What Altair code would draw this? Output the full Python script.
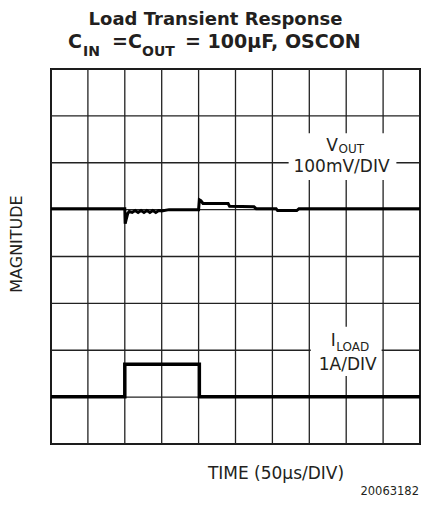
import altair as alt
import pandas as pd

# ---- data (time in µs, magnitude in divisions) ----
vout_t = [0, 100, 100.5, 102, 104, 106, 110, 114, 118, 122, 126, 130, 134, 138, 142, 146,
          150, 160, 200, 201, 203, 206, 240, 242, 275, 278, 305, 307, 333, 336, 500]
vout_v = [5.02, 5.02, 4.70, 4.80, 4.92, 4.96, 4.94, 4.98, 4.94, 4.98, 4.94, 4.98, 4.94, 4.98, 4.94, 4.98,
          4.97, 5.00, 5.00, 5.21, 5.19, 5.13, 5.13, 5.07, 5.06, 5.02, 5.02, 4.98, 4.98, 5.02, 5.02]

iload_t = [0, 100, 100, 201, 201, 500]
iload_v = [1.01, 1.01, 1.70, 1.70, 1.01, 1.01]

grid_t = [0, 50, 100, 150, 200, 250, 300, 350, 400, 450, 500]
grid_v = [0, 1, 2, 3, 4, 5, 6, 7, 8]

# label background boxes
box_x1 = [322, 352]
box_x2 = [468, 448]
box_y1 = [5.63, 1.45]
box_y2 = [6.63, 2.50]

# in-plot labels
big_left_text = ["V", "I"]
big_left_x = [373, 379]
big_left_y = [6.26, 2.10]
sub_text = ["OUT", "LOAD"]
sub_x = [389.5, 386.5]
sub_y = [6.20, 1.99]
center_text = ["100mV/DIV", "1A/DIV"]
center_x = [393.6, 402]
center_y = [5.80, 1.57]

title1 = "Load Transient Response"
title2_parts = ["C", "IN", "=C", "OUT", "= 100μF, OSCON"]
y_title = "MAGNITUDE"
x_title = "TIME (50µs/DIV)"
footnote = "20063182"

FONT = "DejaVu Sans"
INK = "#231f20"
W, H = 369, 375

xs = alt.Scale(domain=[0, 500], nice=False, zero=False)
ys = alt.Scale(domain=[0, 8], nice=False, zero=False)

vgrid = alt.Chart(pd.DataFrame({"t": grid_t})).mark_rule(color="#222", strokeWidth=1.3).encode(
    x=alt.X("t:Q", scale=xs, axis=None))
hgrid = alt.Chart(pd.DataFrame({"v": grid_v})).mark_rule(color="#222", strokeWidth=1.3).encode(
    y=alt.Y("v:Q", scale=ys, axis=None))

boxes = alt.Chart(pd.DataFrame({"x1": box_x1, "x2": box_x2, "y1": box_y1, "y2": box_y2})).mark_rect(
    fill="white").encode(
    x=alt.X("x1:Q", scale=xs, axis=None), x2="x2:Q",
    y=alt.Y("y1:Q", scale=ys, axis=None), y2="y2:Q")

vout_df = pd.DataFrame({"t": vout_t, "v": vout_v, "i": list(range(len(vout_t)))})
iload_df = pd.DataFrame({"t": iload_t, "v": iload_v, "i": list(range(len(iload_t)))})

vout = alt.Chart(vout_df).mark_line(color="black", strokeWidth=3, strokeJoin="miter").encode(
    x=alt.X("t:Q", scale=xs, axis=None), y=alt.Y("v:Q", scale=ys, axis=None), order="i:Q")
iload = alt.Chart(iload_df).mark_line(color="black", strokeWidth=3.5, strokeJoin="miter").encode(
    x=alt.X("t:Q", scale=xs, axis=None), y=alt.Y("v:Q", scale=ys, axis=None), order="i:Q")

big_left = alt.Chart(pd.DataFrame({"x": big_left_x, "y": big_left_y, "s": big_left_text})).mark_text(
    font=FONT, fontSize=17, align="left", baseline="alphabetic", color=INK).encode(
    x=alt.X("x:Q", scale=xs, axis=None), y=alt.Y("y:Q", scale=ys, axis=None), text="s:N")
subs = alt.Chart(pd.DataFrame({"x": sub_x, "y": sub_y, "s": sub_text})).mark_text(
    font=FONT, fontSize=12, align="left", baseline="alphabetic", color=INK).encode(
    x=alt.X("x:Q", scale=xs, axis=None), y=alt.Y("y:Q", scale=ys, axis=None), text="s:N")
centers = alt.Chart(pd.DataFrame({"x": center_x, "y": center_y, "s": center_text})).mark_text(
    font=FONT, fontSize=17, align="center", baseline="alphabetic", color=INK).encode(
    x=alt.X("x:Q", scale=xs, axis=None), y=alt.Y("y:Q", scale=ys, axis=None), text="s:N")

one = pd.DataFrame({"k": [0]})

def ptext(s, x, y, size, bold=False, align="left", angle=0, baseline="alphabetic"):
    kw = dict(font=FONT, fontSize=size, align=align, baseline=baseline, color=INK,
              fontWeight="bold" if bold else "normal")
    if angle:
        kw["angle"] = angle
    return alt.Chart(one).mark_text(**kw).encode(
        x=alt.value(x), y=alt.value(y), text=alt.value(s))

texts = [
    ptext(title1, 164.5, -44, 18, bold=True, align="center"),
    ptext(title2_parts[0], 17, -21, 19, bold=True),
    ptext(title2_parts[1], 32, -13, 14, bold=True),
    ptext(title2_parts[2], 61, -21, 19, bold=True),
    ptext(title2_parts[3], 91, -13, 14, bold=True),
    ptext(title2_parts[4], 134, -21, 19, bold=True),
    ptext(y_title, -34, 175, 16, align="center", angle=270, baseline="middle"),
    ptext(x_title, 225, 410, 17, align="center"),
    ptext(footnote, 368, 426, 11.5, align="right"),
]

chart = alt.layer(vgrid, hgrid, boxes, iload, vout, big_left, subs, centers, *texts).properties(
    width=W, height=H,
    autosize=alt.AutoSizeParams(type="none"),
    padding={"left": 43, "top": 61, "right": 1, "bottom": 54},
).configure_view(stroke="#111", strokeWidth=2)

chart.save("out.html", embed_options={"renderer": "svg", "actions": False})
